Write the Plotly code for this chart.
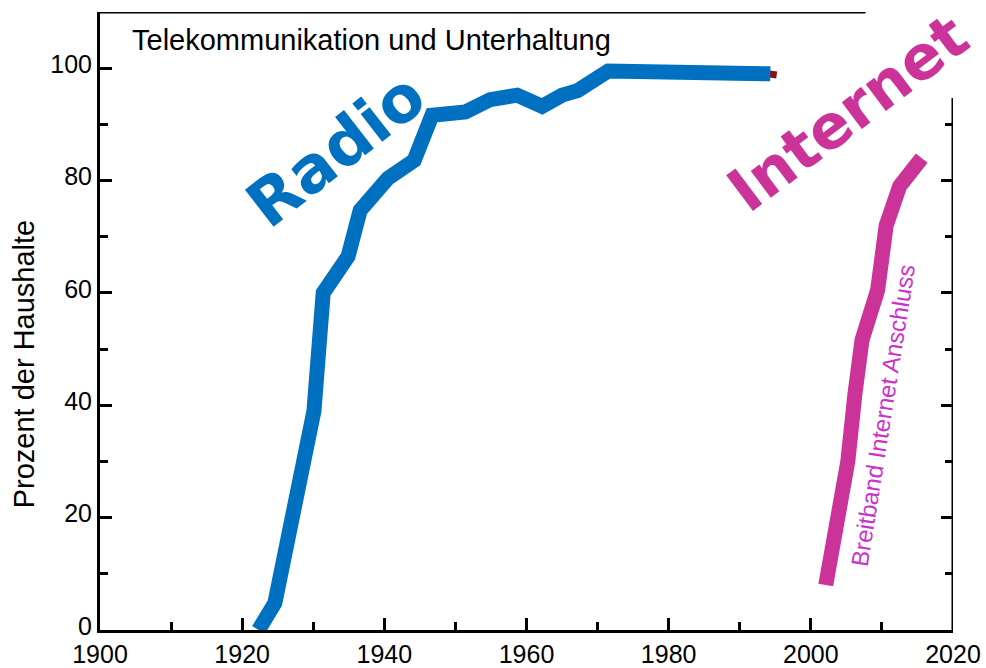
import plotly.graph_objects as go

# Household penetration (%) by year
radio_years = [1922.3, 1924.6, 1930.1, 1931.4, 1934.9, 1936.6, 1940.5, 1944.2,
               1946.7, 1951.4, 1954.9, 1958.7, 1962.2, 1965.0, 1967.2, 1971.5, 1994.3]
radio_share = [0.0, 4.8, 39.0, 60.0, 66.5, 74.7, 80.4, 83.6,
               91.6, 92.2, 94.4, 95.2, 93.2, 95.2, 96.0, 99.5, 99.0]

# short remnant of the television series peeking out behind the radio line
tv_years = [1994.0, 1995.2]
tv_share = [99.0, 98.8]

internet_years = [2002.1, 2003.8, 2005.2, 2006.2, 2007.2, 2009.4, 2010.6, 2012.5, 2014.4, 2015.6]
internet_share = [8.0, 19.6, 30.0, 42.0, 51.6, 60.5, 72.0, 79.0, 82.0, 84.0]

x_ticks = [1900, 1920, 1940, 1960, 1980, 2000, 2020]
y_ticks = [0, 20, 40, 60, 80, 100]

RADIO_BLUE = "#0070C0"
NET_MAGENTA = "#CC3399"
LABEL_VIOLET = "#CC33CC"
TV_RED = "#8B1010"
FONT = "Liberation Sans, Arial, sans-serif"
BOLD_FONT = "DejaVu Sans, Verdana, sans-serif"

fig = go.Figure()
fig.add_trace(go.Scatter(x=tv_years, y=tv_share, mode="lines",
                         line=dict(color=TV_RED, width=7), hoverinfo="skip"))
fig.add_trace(go.Scatter(x=radio_years, y=radio_share, mode="lines",
                         line=dict(color=RADIO_BLUE, width=15), hoverinfo="skip"))
fig.add_trace(go.Scatter(x=internet_years, y=internet_share, mode="lines",
                         line=dict(color=NET_MAGENTA, width=15), hoverinfo="skip"))
# empty trace so the right-hand tick axis is rendered
fig.add_trace(go.Scatter(x=[], y=[], yaxis="y2", hoverinfo="skip"))

tick_common = dict(ticks="inside", ticklen=12, tickwidth=2.5, tickcolor="black")
minor_common = dict(ticks="inside", ticklen=8, tickwidth=2.5, tickcolor="black")

fig.update_layout(
    width=986, height=668,
    margin=dict(l=100, r=33, t=12, b=38),
    paper_bgcolor="white", plot_bgcolor="white",
    showlegend=False,
    font=dict(family=FONT, color="black", size=25),
    xaxis=dict(
        range=[1900, 2020], tickmode="array", tickvals=x_ticks,
        ticktext=[str(v) for v in x_ticks], **tick_common,
        minor=dict(tickmode="array", tickvals=[1910, 1930, 1950, 1970, 1990, 2010],
                   **minor_common),
        showline=True, linecolor="black", linewidth=3,
        showgrid=False, zeroline=False, fixedrange=True, automargin=False,
        tickfont=dict(size=25, family=FONT),
    ),
    yaxis=dict(
        range=[0, 110], tickmode="array", tickvals=y_ticks,
        ticktext=[str(v) for v in y_ticks], **tick_common,
        minor=dict(tickmode="array", tickvals=[10, 30, 50, 70, 90], **minor_common),
        showline=True, linecolor="black", linewidth=3,
        showgrid=False, zeroline=False, fixedrange=True, automargin=False,
        tickfont=dict(size=25, family=FONT), ticklabelshift=-4,
    ),
    yaxis2=dict(
        range=[0, 110], overlaying="y", side="right", anchor="x",
        tickmode="array", tickvals=[20, 40, 60, 80], **tick_common,
        minor=dict(tickmode="array", tickvals=[10, 30, 50, 70, 90], **minor_common),
        showticklabels=False, showline=False, showgrid=False, zeroline=False,
        fixedrange=True, automargin=False,
    ),
)

# frame: top edge stops short, right edge starts below the "Internet" label
fig.add_shape(type="line", xref="x", yref="y", x0=1900, x1=2007.7, y0=110, y1=110,
              line=dict(color="black", width=3))
fig.add_shape(type="line", xref="x", yref="y", x0=2020, x1=2020, y0=0, y1=94.7,
              line=dict(color="black", width=3))

fig.add_annotation(text="Prozent der Haushalte", xref="paper", yref="paper",
                   x=-0.089, xshift=-18, y=0.43, textangle=-90, showarrow=False,
                   font=dict(size=29, family=FONT, color="black"))
fig.add_annotation(text="Telekommunikation und Unterhaltung", xref="x", yref="y",
                   x=1904.2, y=105, xanchor="left", yanchor="middle", showarrow=False,
                   font=dict(size=29, family=FONT, color="black"))
fig.add_annotation(text="<b>Radio</b>", xref="x", yref="y", x=1933.2, y=85.4,
                   textangle=-38, showarrow=False,
                   font=dict(size=64, family=BOLD_FONT, color=RADIO_BLUE))
fig.add_annotation(text="<b>Internet</b>", xref="x", yref="y", x=2005.2, y=92.2,
                   textangle=-37, showarrow=False,
                   font=dict(size=61, family=BOLD_FONT, color=NET_MAGENTA))
fig.add_annotation(text="Breitband Internet Anschluss", xref="x", yref="y",
                   x=2010.2, y=38.3, textangle=-81, showarrow=False,
                   font=dict(size=24, family=FONT, color=LABEL_VIOLET))

fig.write_html("out.html")
